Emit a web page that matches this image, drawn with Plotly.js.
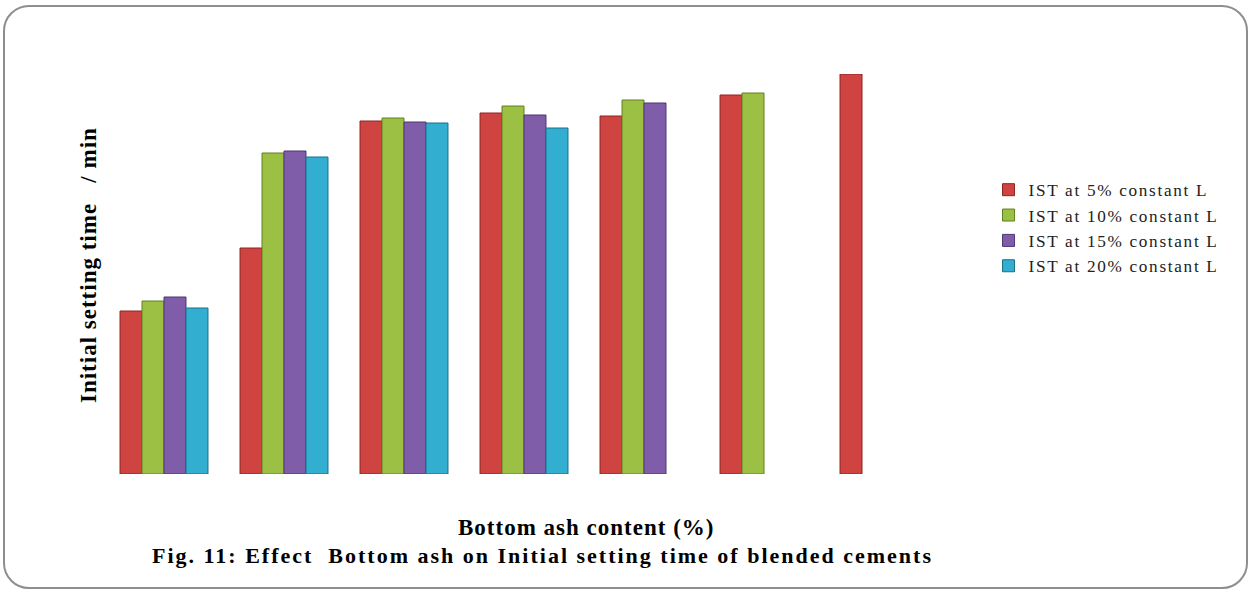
<!DOCTYPE html>
<html>
<head>
<meta charset="utf-8">
<script src="https://cdn.plot.ly/plotly-3.0.1.min.js"></script>
<style>
  html, body { margin: 0; padding: 0; background: #ffffff; }
  #chart { position: absolute; left: 0; top: 0; width: 1250px; height: 590px; }
  #frame {
    position: absolute; left: 3px; top: 5px; width: 1241px; height: 580px;
    border: 2px solid #8e8e8e; border-radius: 26px; pointer-events: none;
  }
  /* wider tracking for the serif labels */
  .legendtext { letter-spacing: 1.7px; }
  #chart g.annotation[data-index="0"] text { letter-spacing: 1px; }
  #chart g.annotation[data-index="1"] text { letter-spacing: 1px; }
  #chart g.annotation[data-index="2"] text { letter-spacing: 2px; }
</style>
</head>
<body>
<div id="chart"></div>
<div id="frame"></div>
<script>
// Bottom ash content levels (one group of bars per level)
const ashLevels = ['0', '5', '10', '15', '20', '25', '30'];

// Initial setting time (min) for each lime content series
const ist5  = [163, 226, 353, 361, 358, 379, 400];
const ist10 = [173, 321, 356, 368, 374, 381, null];
const ist15 = [177, 323, 352, 359, 371, null, null];
const ist20 = [166, 317, 351, 346, null, null, null];

const seriesNames = [
  'IST at 5% constant L',
  'IST at 10% constant L',
  'IST at 15% constant L',
  'IST at 20% constant L'
];
const seriesValues = [ist5, ist10, ist15, ist20];
const fills = ['#CF4340', '#9BC043', '#7F5DA8', '#31AED0'];
const edges = ['#8E2422', '#63801F', '#4F3673', '#1B6F88'];

const traces = seriesValues.map((vals, i) => ({
  type: 'bar',
  name: seriesNames[i],
  x: ashLevels,
  y: vals,
  marker: { color: fills[i], line: { color: edges[i], width: 1 } },
  hoverinfo: 'name+y'
}));

const serif = 'Liberation Serif, Times New Roman, serif';

const layout = {
  width: 1250,
  height: 590,
  margin: { l: 104, r: 306, t: 74, b: 116 },
  paper_bgcolor: '#ffffff',
  plot_bgcolor: '#ffffff',
  barmode: 'group',
  bargap: 0.267,
  bargroupgap: 0,
  showlegend: true,
  legend: {
    x: 1.053, xanchor: 'left',
    y: 0.755, yanchor: 'top',
    font: { family: serif, size: 17.2, color: '#222222' },
    bgcolor: 'rgba(0,0,0,0)',
    tracegroupgap: 0
  },
  xaxis: {
    type: 'category',
    range: [-0.5, 6.5],
    showticklabels: false, showgrid: false, zeroline: false, showline: false, ticks: ''
  },
  yaxis: {
    range: [0, 400],
    showticklabels: false, showgrid: false, zeroline: false, showline: false, ticks: ''
  },
  annotations: [
    {
      text: '<b>Initial setting time   / min</b>',
      xref: 'paper', yref: 'paper',
      x: -0.019, y: 0.5225, xanchor: 'center', yanchor: 'middle',
      textangle: -90, showarrow: false,
      font: { family: serif, size: 23, color: '#000000' }
    },
    {
      text: '<b>Bottom ash content (%)</b>',
      xref: 'paper', yref: 'paper',
      x: 0.574, y: -0.1325, xanchor: 'center', yanchor: 'middle',
      showarrow: false,
      font: { family: serif, size: 23, color: '#000000' }
    },
    {
      text: '<b>Fig. 11: Effect  Bottom ash on Initial setting time of blended cements</b>',
      xref: 'paper', yref: 'paper',
      x: 0.5226, y: -0.2025, xanchor: 'center', yanchor: 'middle',
      showarrow: false,
      font: { family: serif, size: 22, color: '#000000' }
    }
  ]
};

Plotly.newPlot('chart', traces, layout, { displayModeBar: false, staticPlot: true });
</script>
</body>
</html>
